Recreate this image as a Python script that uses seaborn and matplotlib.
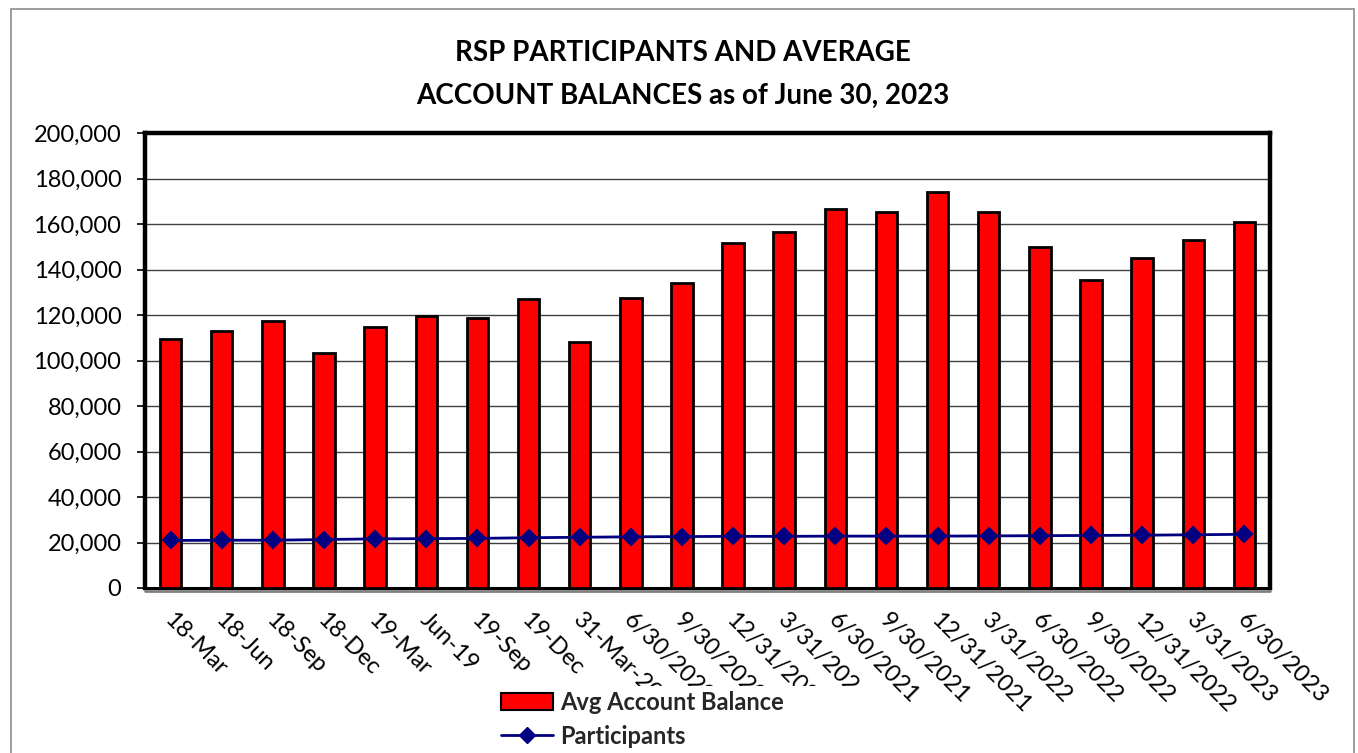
import matplotlib
matplotlib.use("Agg")
import matplotlib.pyplot as plt
import seaborn as sns
import pandas as pd
import numpy as np
from matplotlib.patches import Rectangle, Patch
from matplotlib.lines import Line2D
from matplotlib.ticker import FuncFormatter, MultipleLocator
from matplotlib.transforms import Bbox, ScaledTranslation

periods = ["18-Mar", "18-Jun", "18-Sep", "18-Dec", "19-Mar", "Jun-19", "19-Sep", "19-Dec",
           "31-Mar-20", "6/30/2020", "9/30/2020", "12/31/2020", "3/31/2021", "6/30/2021",
           "9/30/2021", "12/31/2021", "3/31/2022", "6/30/2022", "9/30/2022", "12/31/2022",
           "3/31/2023", "6/30/2023"]
avg_balance = [109500, 112800, 117400, 103500, 114900, 119400, 118700, 127000,
               108000, 127400, 134200, 151500, 156300, 166700, 165200, 174100,
               165100, 150100, 135600, 145100, 153000, 161000]
participants = [20900, 21000, 21000, 21300, 21600, 21700, 21800, 22100,
                22300, 22500, 22600, 22700, 22700, 22800, 22800, 22800,
                22900, 23000, 23100, 23200, 23400, 23600]

title = "RSP PARTICIPANTS AND AVERAGE\nACCOUNT BALANCES as of June 30, 2023"
bar_label = "Avg Account Balance"
line_label = "Participants"

df = pd.DataFrame({"period": periods, "balance": avg_balance, "participants": participants})

sns.set_theme(style="white")
plt.rcParams["font.family"] = ["Lato", "DejaVu Sans"]

W, H = 1358, 753
fig = plt.figure(figsize=(W / 100, H / 100), dpi=100)
fig.patch.set_facecolor("white")

# outer border
fig.patches.append(Rectangle((11 / W, -0.05), (1354 - 11) / W, 1.05 - 9 / H,
                             transform=fig.transFigure, fill=False,
                             edgecolor="#8c8c8c", linewidth=1.2, zorder=0))

ax = fig.add_axes([145 / W, 1 - 588 / H, (1270 - 145) / W, (588 - 133) / H])

sns.barplot(data=df, x="period", y="balance", ax=ax, color="#FF0000", width=0.42,
            edgecolor="black", linewidth=2.0, saturation=1, zorder=3)
sns.pointplot(data=df, x="period", y="participants", ax=ax, color="#000080",
              markers="D", linestyles="-", markersize=8, linewidth=2.0, zorder=4)

ax.set_ylim(0, 200000)
ax.set_xlim(-0.5, len(periods) - 0.5)
ax.yaxis.set_major_locator(MultipleLocator(20000))
ax.yaxis.set_major_formatter(FuncFormatter(lambda v, p: f"{int(v):,}"))
ax.grid(axis="y", color="#404040", linewidth=1.0, zorder=0)
ax.set_axisbelow(True)
ax.set_xlabel("")
ax.set_ylabel("")

for side in ["left", "top", "right"]:
    ax.spines[side].set_visible(True)
    ax.spines[side].set_color("black")
    ax.spines[side].set_linewidth(3.2)
ax.spines["bottom"].set_color("black")
ax.spines["bottom"].set_linewidth(2.2)
# gray shadow under bottom axis
shadow = Line2D([0, 1], [0, 0], color="#808080", linewidth=2, zorder=5, clip_on=False,
                transform=ax.transAxes + ScaledTranslation(0, -2.5 / 72, fig.dpi_scale_trans))
ax.add_line(shadow)

ax.tick_params(axis="y", which="major", left=True, length=6, width=1.2, color="black",
               labelsize=17, pad=11, labelcolor="black")
ax.tick_params(axis="x", which="major", bottom=False, labelsize=17, pad=9, labelcolor="black")

offset = ScaledTranslation(4 / 100, 0, fig.dpi_scale_trans)
for i, lab in enumerate(ax.get_xticklabels()):
    lab.set_rotation(-45)
    lab.set_ha("left")
    lab.set_va("top")
    lab.set_rotation_mode("anchor")
    lab.set_transform(lab.get_transform() + offset)
    if 8 <= i <= 12:
        lab.set_clip_on(True)
        lab.set_clip_box(Bbox.from_extents(0, H - 686, W, H))

fig.text(683 / W, 1 - 74 / H, title, ha="center", va="center", fontsize=20,
         fontweight="bold", linespacing=1.8, color="black")

handles = [Patch(facecolor="#FF0000", edgecolor="black", linewidth=1.5),
           Line2D([0], [0], color="#000080", linewidth=2, marker="D", markersize=8)]
leg = fig.legend(handles, [bar_label, line_label], loc="upper left",
                 bbox_to_anchor=(501 / W, 1 - 691 / H), frameon=False,
                 prop={"size": 17, "weight": "bold"}, handlelength=2.2,
                 handletextpad=0.3, labelspacing=0.45, borderpad=0, borderaxespad=0)

fig.savefig("out.png", dpi=100, facecolor="white")
